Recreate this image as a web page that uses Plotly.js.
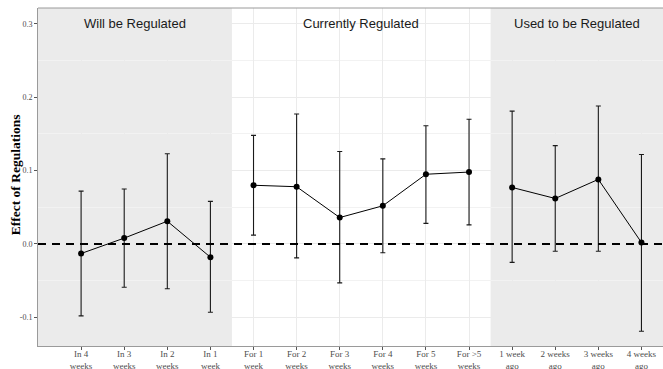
<!DOCTYPE html>
<html>
<head>
<meta charset="utf-8">
<script src="https://cdn.plot.ly/plotly-3.0.1.min.js"></script>
<style>
  html, body { margin: 0; padding: 0; background: #ffffff; }
  #chart { width: 663px; height: 369px; }
</style>
</head>
<body>
<div id="chart"></div>
<script>
// Period labels, grouped by regulation status
const willLabels = ["In 4<br>weeks", "In 3<br>weeks", "In 2<br>weeks", "In 1<br>week"];
const currLabels = ["For 1<br>week", "For 2<br>weeks", "For 3<br>weeks", "For 4<br>weeks", "For 5<br>weeks", "For >5<br>weeks"];
const usedLabels = ["1 week<br>ago", "2 weeks<br>ago", "3 weeks<br>ago", "4 weeks<br>ago"];

// Point estimates
const willEst = [-0.013, 0.008, 0.031, -0.018];
const currEst = [0.080, 0.078, 0.036, 0.052, 0.095, 0.098];
const usedEst = [0.077, 0.062, 0.088, 0.002];

// Confidence interval bounds
const willLow = [-0.098, -0.059, -0.061, -0.093];
const willHigh = [0.072, 0.075, 0.123, 0.058];
const currLow = [0.012, -0.019, -0.053, -0.012, 0.028, 0.026];
const currHigh = [0.148, 0.177, 0.126, 0.116, 0.161, 0.170];
const usedLow = [-0.025, -0.010, -0.010, -0.119];
const usedHigh = [0.181, 0.134, 0.188, 0.122];

// Section headings
const sectionNames = ["Will be Regulated", "Currently Regulated", "Used to be Regulated"];

const allLabels = willLabels.concat(currLabels, usedLabels);

function group(labels, est, low, high) {
  return {
    type: "scatter",
    mode: "lines+markers",
    x: labels,
    y: est,
    line: { color: "#000000", width: 1 },
    marker: { color: "#000000", size: 6 },
    error_y: {
      type: "data",
      symmetric: false,
      array: high.map((h, i) => h - est[i]),
      arrayminus: low.map((l, i) => est[i] - l),
      color: "#1a1a1a",
      thickness: 1.1,
      width: 2.5
    },
    showlegend: false,
    hoverinfo: "x+y"
  };
}

const traces = [
  group(willLabels, willEst, willLow, willHigh),
  group(currLabels, currEst, currLow, currHigh),
  group(usedLabels, usedEst, usedLow, usedHigh)
];

const xMin = -1, xMax = 13.5;
const yMin = -0.139, yMax = 0.3215;
const split1 = willLabels.length - 0.5;
const split2 = willLabels.length + currLabels.length - 0.5;

const shapes = [
  // shaded sections
  { type: "rect", layer: "between", xref: "x", yref: "paper", x0: xMin, x1: split1, y0: 0, y1: 1,
    fillcolor: "rgba(128,128,128,0.16)", line: { width: 0 } },
  { type: "rect", layer: "between", xref: "x", yref: "paper", x0: split2, x1: xMax, y0: 0, y1: 1,
    fillcolor: "rgba(128,128,128,0.16)", line: { width: 0 } },
  // zero reference line
  { type: "line", layer: "above", xref: "paper", yref: "y", x0: 0, x1: 1, y0: 0, y1: 0,
    line: { color: "#000000", width: 2, dash: "8px,6px" } },
  // top border
  { type: "line", layer: "above", xref: "paper", yref: "paper", x0: 0, x1: 1, y0: 1, y1: 1,
    line: { color: "#9a9a9a", width: 1 } }
];

const sectionCenters = [(xMin + split1) / 2, (split1 + split2) / 2, (split2 + xMax) / 2];
const annotations = sectionNames.map((name, i) => ({
  x: sectionCenters[i], y: 0.3, xref: "x", yref: "y",
  text: name, showarrow: false,
  font: { family: "Liberation Sans, Arial, sans-serif", size: 13, color: "#1a1a1a" }
}));

// Vertical axis title
annotations.push({
  x: -0.0368, y: 0.505, xref: "paper", yref: "paper",
  xanchor: "center", yanchor: "middle", textangle: -90,
  text: "<b>Effect of Regulations</b>", showarrow: false,
  font: { family: "Liberation Serif, Times New Roman, serif", size: 13.5, color: "#000000" }
});

const layout = {
  width: 663,
  height: 369,
  margin: { l: 38, r: 0, t: 8, b: 23 },
  paper_bgcolor: "#ffffff",
  plot_bgcolor: "#ffffff",
  xaxis: {
    type: "category",
    categoryarray: allLabels,
    categoryorder: "array",
    range: [xMin, xMax],
    showgrid: true,
    gridcolor: "#ebebeb",
    gridwidth: 1,
    zeroline: false,
    showline: true,
    linecolor: "#9a9a9a",
    linewidth: 1,
    ticks: "outside",
    ticklen: 3,
    tickcolor: "#555555",
    ticklabelstandoff: -4,
    tickfont: { family: "Liberation Serif, Times New Roman, serif", size: 9, color: "#4d4d4d" },
    automargin: false,
    fixedrange: true
  },
  yaxis: {
    range: [yMin, yMax],
    tickvals: [-0.1, 0, 0.1, 0.2, 0.3],
    ticktext: ["-0.1", "0.0", "0.1", "0.2", "0.3"],
    showgrid: true,
    gridcolor: "#ebebeb",
    gridwidth: 1,
    minor: { dtick: 0.05, tick0: 0.05, showgrid: true, gridcolor: "#f2f2f2", gridwidth: 1, ticks: "" },
    zeroline: false,
    showline: true,
    linecolor: "#9a9a9a",
    linewidth: 1,
    ticks: "outside",
    ticklen: 3,
    tickcolor: "#555555",
    tickfont: { family: "Liberation Serif, Times New Roman, serif", size: 8, color: "#4d4d4d" },
    automargin: false,
    fixedrange: true
  },
  shapes: shapes,
  annotations: annotations,
  showlegend: false
};

Plotly.newPlot("chart", traces, layout, { displayModeBar: false, staticPlot: true });
</script>
</body>
</html>
